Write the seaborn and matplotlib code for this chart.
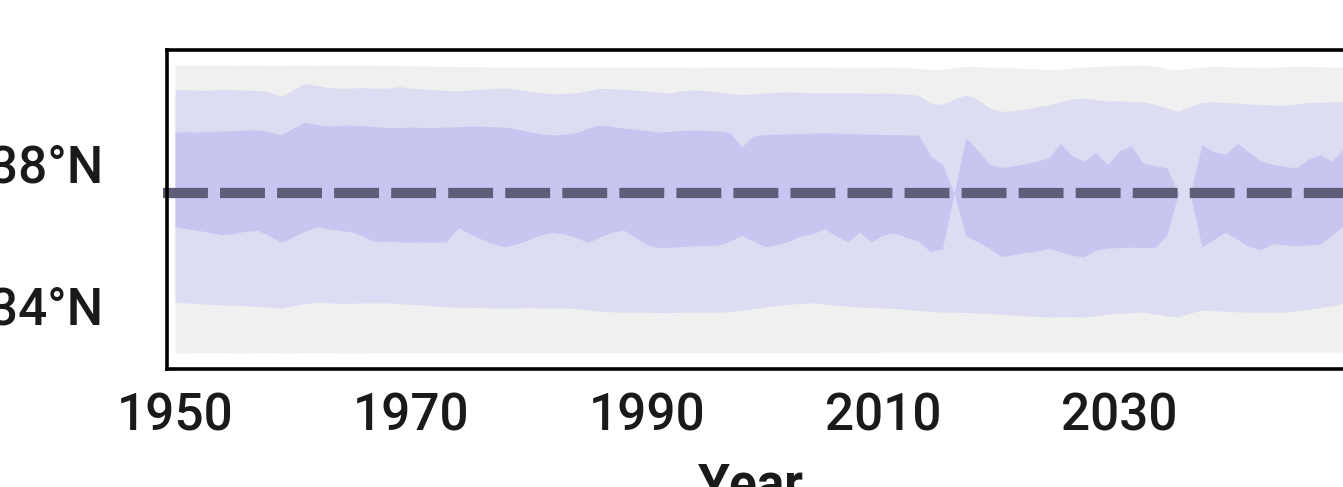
import numpy as np
import pandas as pd
import matplotlib
matplotlib.use("Agg")
import matplotlib.pyplot as plt
import seaborn as sns

# years of the ensemble envelope
years = list(range(1950, 2050))

# outer envelope (grey)
grey_top = [
    40.76, 40.76, 40.75, 40.76, 40.76, 40.75, 40.76, 40.76, 40.75, 40.74,
    40.76, 40.76, 40.75, 40.76, 40.76, 40.75, 40.76, 40.75, 40.75, 40.74,
    40.74, 40.73, 40.72, 40.72, 40.71, 40.71, 40.71, 40.70, 40.70, 40.70,
    40.70, 40.70, 40.70, 40.70, 40.70, 40.70, 40.70, 40.70, 40.70, 40.70,
    40.70, 40.70, 40.70, 40.70, 40.69, 40.70, 40.70, 40.70, 40.70, 40.70,
    40.70, 40.70, 40.70, 40.70, 40.70, 40.70, 40.69, 40.68, 40.68, 40.69,
    40.70, 40.70, 40.69, 40.66, 40.63, 40.63, 40.68, 40.72, 40.71, 40.70,
    40.69, 40.68, 40.66, 40.65, 40.62, 40.64, 40.67, 40.70, 40.72, 40.73,
    40.74, 40.75, 40.76, 40.72, 40.66, 40.62, 40.66, 40.70, 40.72, 40.71,
    40.70, 40.70, 40.69, 40.70, 40.71, 40.72, 40.72, 40.71, 40.70, 40.70,
]
grey_bottom = [
    32.65, 32.65, 32.66, 32.66, 32.66, 32.65, 32.65, 32.66, 32.66, 32.65,
    32.65, 32.66, 32.66, 32.66, 32.65, 32.65, 32.65, 32.66, 32.66, 32.66,
    32.66, 32.66, 32.66, 32.66, 32.66, 32.66, 32.66, 32.66, 32.66, 32.66,
    32.66, 32.66, 32.66, 32.66, 32.66, 32.66, 32.66, 32.66, 32.66, 32.66,
    32.66, 32.66, 32.66, 32.66, 32.66, 32.66, 32.66, 32.66, 32.66, 32.66,
    32.66, 32.66, 32.66, 32.66, 32.66, 32.66, 32.66, 32.66, 32.66, 32.66,
    32.68, 32.68, 32.68, 32.68, 32.68, 32.68, 32.68, 32.68, 32.68, 32.68,
    32.68, 32.68, 32.68, 32.68, 32.68, 32.68, 32.68, 32.68, 32.68, 32.68,
    32.68, 32.68, 32.68, 32.68, 32.68, 32.68, 32.68, 32.68, 32.68, 32.68,
    32.68, 32.68, 32.68, 32.68, 32.68, 32.68, 32.68, 32.68, 32.68, 32.68,
]

# wide band (light lavender)
light_top = [
    40.06, 40.06, 40.05, 40.05, 40.07, 40.06, 40.05, 40.04, 40.00, 39.87,
    40.05, 40.24, 40.18, 40.12, 40.10, 40.11, 40.12, 40.10, 40.11, 40.15,
    40.10, 40.08, 40.06, 40.04, 40.03, 40.05, 40.08, 40.10, 40.11, 40.07,
    40.02, 39.98, 39.95, 39.96, 39.97, 40.04, 40.10, 40.09, 40.07, 40.05,
    40.03, 39.99, 39.97, 40.03, 40.06, 40.03, 40.00, 39.96, 39.92, 39.95,
    39.97, 39.99, 40.00, 39.99, 39.98, 39.97, 39.97, 39.98, 39.97, 39.96,
    39.97, 39.96, 39.94, 39.90, 39.68, 39.65, 39.80, 39.92, 39.78, 39.55,
    39.45, 39.47, 39.52, 39.58, 39.63, 39.72, 39.80, 39.82, 39.78, 39.74,
    39.75, 39.73, 39.72, 39.65, 39.55, 39.45, 39.58, 39.70, 39.72, 39.70,
    39.68, 39.66, 39.64, 39.63, 39.63, 39.66, 39.70, 39.71, 39.72, 39.72,
]
light_bottom = [
    34.08, 34.06, 34.04, 34.02, 34.00, 34.00, 33.98, 33.96, 33.94, 33.91,
    33.98, 34.04, 34.08, 34.06, 34.05, 34.05, 34.06, 34.06, 34.06, 34.04,
    34.02, 34.00, 33.97, 33.95, 33.94, 33.94, 33.93, 33.92, 33.92, 33.92,
    33.93, 33.92, 33.92, 33.92, 33.90, 33.86, 33.83, 33.81, 33.80, 33.80,
    33.80, 33.79, 33.79, 33.80, 33.80, 33.80, 33.80, 33.82, 33.85, 33.90,
    33.95, 33.98, 34.02, 34.05, 34.06, 34.03, 34.00, 33.97, 33.94, 33.93,
    33.92, 33.90, 33.88, 33.85, 33.82, 33.80, 33.80, 33.79, 33.77, 33.76,
    33.74, 33.72, 33.70, 33.68, 33.66, 33.68, 33.67, 33.66, 33.70, 33.74,
    33.77, 33.79, 33.80, 33.75, 33.70, 33.66, 33.78, 33.86, 33.84, 33.82,
    33.81, 33.80, 33.80, 33.80, 33.80, 33.84, 33.88, 33.93, 33.98, 34.06,
]

# inner band (darker lavender)
dark_top = [
    38.87, 38.88, 38.87, 38.89, 38.90, 38.91, 38.93, 38.93, 38.88, 38.79,
    38.98, 39.14, 39.08, 39.04, 39.06, 39.07, 39.05, 39.02, 38.99, 39.00,
    39.01, 39.00, 39.00, 39.01, 39.02, 39.04, 39.03, 39.02, 39.01, 38.95,
    38.88, 38.82, 38.79, 38.81, 38.86, 38.98, 39.07, 39.03, 38.98, 38.95,
    38.91, 38.87, 38.89, 38.92, 38.93, 38.91, 38.90, 38.86, 38.45, 38.76,
    38.80, 38.81, 38.82, 38.83, 38.84, 38.85, 38.84, 38.83, 38.82, 38.81,
    38.80, 38.80, 38.79, 38.78, 38.20, 37.96, 37.15, 38.72, 38.35, 37.96,
    37.87, 37.92, 37.98, 38.05, 38.14, 38.55, 38.20, 38.05, 38.30, 37.95,
    38.35, 38.48, 38.00, 37.92, 37.87, 37.15, 37.15, 38.50, 38.32, 38.25,
    38.55, 38.30, 38.05, 37.96, 37.90, 37.86, 38.10, 38.23, 38.05, 38.40,
]
dark_bottom = [
    36.20, 36.15, 36.10, 36.04, 35.98, 36.02, 36.08, 36.10, 35.95, 35.76,
    35.92, 36.08, 36.20, 36.15, 36.10, 36.06, 35.92, 35.78, 35.80, 35.78,
    35.77, 35.78, 35.77, 35.78, 36.18, 36.00, 35.85, 35.72, 35.64, 35.72,
    35.85, 35.98, 36.05, 36.00, 35.90, 35.76, 35.92, 36.05, 36.11, 35.90,
    35.70, 35.62, 35.63, 35.65, 35.67, 35.68, 35.69, 35.80, 35.96, 35.80,
    35.64, 35.70, 35.80, 35.95, 36.00, 36.15, 35.95, 35.78, 36.05, 35.78,
    35.98, 36.02, 35.90, 35.80, 35.50, 35.58, 37.15, 35.95, 35.78, 35.60,
    35.36, 35.42, 35.48, 35.52, 35.60, 35.50, 35.40, 35.36, 35.55, 35.60,
    35.62, 35.63, 35.62, 35.62, 35.95, 37.15, 37.15, 35.64, 35.85, 36.05,
    35.85, 35.65, 35.56, 35.73, 35.70, 35.68, 35.69, 35.72, 35.95, 36.25,
]

# ensemble mean latitude (dashed)
mean_years = [1949, 2049]
mean_lat = [37.15, 37.15]

xticks = [1950, 1970, 1990, 2010, 2030]
yticks = [34, 38]
ytick_labels = ["34°N", "38°N"]

df = pd.DataFrame({
    "Year": years,
    "grey_top": grey_top, "grey_bottom": grey_bottom,
    "light_top": light_top, "light_bottom": light_bottom,
    "dark_top": dark_top, "dark_bottom": dark_bottom,
})
mean_df = pd.DataFrame({"Year": mean_years, "lat": mean_lat})

sns.set_theme(style="white")
plt.rcParams["font.family"] = ["Roboto", "DejaVu Sans"]

W, H = 1343, 487
fig = plt.figure(figsize=(W / 100, H / 100), dpi=100)
ax = fig.add_axes([167 / W, 118 / H, (1346 - 167) / W, 319 / H])

ax.fill_between(df["Year"], df["grey_bottom"], df["grey_top"],
                color="#f0f0f0", lw=0)
ax.fill_between(df["Year"], df["light_bottom"], df["light_top"],
                color="#dcdcf2", lw=0)
ax.fill_between(df["Year"], df["dark_bottom"], df["dark_top"],
                color="#c6c6f0", lw=0)

sns.lineplot(data=mean_df, x="Year", y="lat", ax=ax, color="#5e5e78",
             linewidth=7.4, linestyle=(0, (4.37, 1.18)), clip_on=False,
             estimator=None)

ax.set_xlim(1949.32, 2049.2)
ax.set_ylim(32.2, 41.18)
ax.set_xticks(xticks)
ax.set_xticklabels([str(t) for t in xticks], fontsize=37, fontweight="medium")
ax.set_yticks(yticks)
ax.set_yticklabels(ytick_labels, fontsize=37, fontweight="medium")
ax.tick_params(axis="x", length=0, pad=16.5, colors="#1a1a1a")
ax.tick_params(axis="y", length=0, pad=46, colors="#1a1a1a")

ax.set_xlabel("Year", fontsize=37, fontweight="bold", color="#1a1a1a")
ax.xaxis.set_label_coords((751 - 167) / (1346 - 167), -0.29)
ax.set_ylabel("")

for s in ax.spines.values():
    s.set_visible(True)
    s.set_color("black")
    s.set_linewidth(2.6)
ax.grid(False)

fig.savefig("out.png", dpi=100)
